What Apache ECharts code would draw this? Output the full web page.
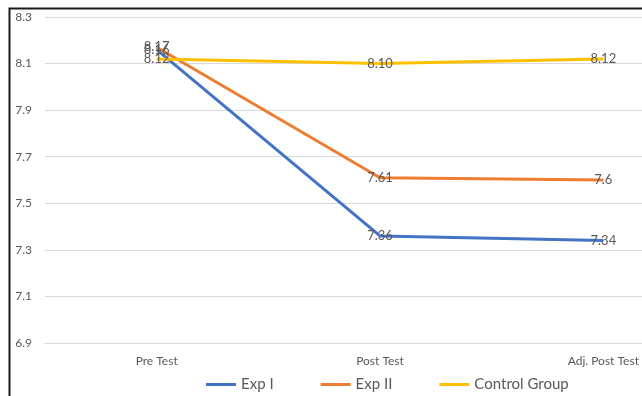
<!DOCTYPE html>
<html>
<head>
<meta charset="utf-8">
<script src="https://cdn.jsdelivr.net/npm/echarts@6/dist/echarts.min.js"></script>
<style>
  html, body { margin: 0; padding: 0; background: #fff; }
  #chart { width: 642px; height: 396px; }
</style>
</head>
<body>
<div id="chart"></div>
<script>
// Test phases along the x axis
const categories = ['Pre Test', 'Post Test', 'Adj. Post Test'];

// Mean scores per group
const expI = [8.16, 7.36, 7.34];
const expII = [8.17, 7.61, 7.6];
const controlGroup = [8.12, 8.10, 8.12];

// Value axis range and step
const yMin = 6.9;
const yMax = 8.3;
const yStep = 0.2;

const FONT = 'Lato, "Open Sans", sans-serif';

function lineSeries(name, data, color, digits) {
  return {
    name: name,
    type: 'line',
    data: data,
    symbol: 'circle',
    symbolSize: 1,
    lineStyle: { color: color, width: 3 },
    itemStyle: { color: color },
    label: {
      show: true,
      position: 'inside',
      color: '#595959',
      fontSize: 13,
      fontFamily: FONT,
      formatter: p => digits ? p.value.toFixed(digits) : String(p.value)
    },
    emphasis: { disabled: true }
  };
}

const chart = echarts.init(document.getElementById('chart'));
chart.setOption({
  animation: false,
  backgroundColor: '#ffffff',
  textStyle: { fontFamily: FONT },
  // plot area runs past the right edge of the canvas
  grid: { left: 45, width: 670, top: 17, height: 326, outerBoundsMode: 'none', containLabel: false },
  legend: {
    left: 206,
    top: 377,
    padding: 0,
    itemWidth: 30,
    itemHeight: 3,
    itemGap: 47,
    icon: 'rect',
    textStyle: { color: '#595959', fontSize: 15, fontFamily: FONT },
    data: ['Exp I', 'Exp II', 'Control Group']
  },
  xAxis: {
    type: 'category',
    data: categories,
    boundaryGap: true,
    axisLine: { show: true, lineStyle: { color: '#d9d9d9', width: 1 } },
    axisTick: { show: false },
    axisLabel: { color: '#595959', fontSize: 12, margin: 12, fontFamily: FONT }
  },
  yAxis: {
    type: 'value',
    min: yMin,
    max: yMax,
    interval: yStep,
    axisLine: { show: false },
    axisTick: { show: false },
    axisLabel: {
      color: '#595959', fontSize: 12, margin: 13, fontFamily: FONT,
      formatter: v => v.toFixed(1)
    },
    splitLine: { lineStyle: { color: '#d9d9d9', width: 1 } }
  },
  graphic: [{
    type: 'polyline',
    shape: { points: [[9.5, 396], [9.5, 8.5], [642, 8.5]] },
    style: { stroke: '#1a1a1a', lineWidth: 2, fill: null },
    silent: true
  }],
  series: [
    lineSeries('Exp I', expI, '#4472C4', 0),
    lineSeries('Exp II', expII, '#ED7D31', 0),
    lineSeries('Control Group', controlGroup, '#FFC000', 2)
  ]
});
</script>
</body>
</html>
